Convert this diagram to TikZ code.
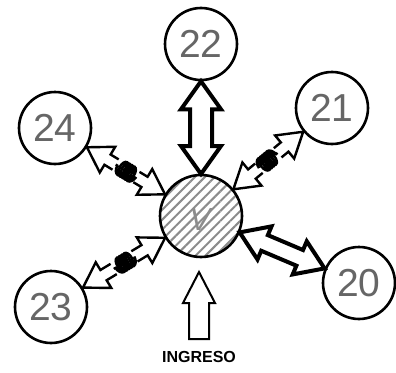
\documentclass[tikz,border=0pt]{standalone}
\usepackage{fontspec}
\setmainfont{Liberation Sans}
\usetikzlibrary{calc,patterns.meta,decorations.pathmorphing}

% angle and length of the free line between two nodes
\newcommand{\arrowframe}[2]{%
  \path (#1) -- (#2) coordinate[pos=0] (aa) coordinate[pos=1] (bb);
  \path let \p1=($(bb)-(aa)$) in \pgfextra{%
    \pgfmathsetmacro\arrang{atan2(\y1,\x1)}\xdef\arrang{\arrang}%
    \pgfmathsetmacro\arrlen{veclen(\x1,\y1)}\xdef\arrlen{\arrlen}};
}
% #1 from, #2 to, #3 shaft half width, #4 head half width, #5 head length, #6 style
\newcommand{\twowayarrow}[6]{%
  \arrowframe{#1}{#2}
  \begin{scope}[shift={(aa)}, rotate=\arrang]
    \draw[#6] (0,0) -- (#5,#4) -- (#5,#3) -- (\arrlen-#5,#3) -- (\arrlen-#5,#4)
      -- (\arrlen,0) -- (\arrlen-#5,-#4) -- (\arrlen-#5,-#3) -- (#5,-#3) -- (#5,-#4) -- cycle;
  \end{scope}
}
\newcommand{\onewayarrow}[6]{%
  \arrowframe{#1}{#2}
  \begin{scope}[shift={(aa)}, rotate=\arrang]
    \draw[#6] (0,#3) -- (\arrlen-#5,#3) -- (\arrlen-#5,#4) -- (\arrlen,0)
      -- (\arrlen-#5,-#4) -- (\arrlen-#5,-#3) -- (0,-#3) -- cycle;
  \end{scope}
}
\newcommand{\springarrow}[2]{%
  \twowayarrow{#1}{#2}{6}{15}{24}{spring arrow}
  \begin{scope}[shift={(aa)}, rotate=\arrang]
    \fill[white] (\arrlen/2-12,-8) rectangle (\arrlen/2+12,8);
    \draw[coil spring] (\arrlen/2-12,0) -- (\arrlen/2+12,0);
  \end{scope}
}

\begin{document}
\begin{tikzpicture}[x=1pt, y=-1pt,
  place/.style={circle, draw, line width=2.6pt, minimum size=72pt, inner sep=0pt,
    text=black!60, font=\fontsize{39}{39}\selectfont},
  heavy arrow/.style={line width=4pt},
  spring arrow/.style={line width=2.4pt},
  entry arrow/.style={line width=2pt},
  coil spring/.style={decorate, decoration={coil, aspect=0.6, segment length=2.8pt,
    amplitude=8pt}, line width=2.4pt}]
  \useasboundingbox[fill=white] (0,0) rectangle (396,372);

  \node[circle, draw, line width=2.6pt, minimum size=82pt, inner sep=0pt,
    pattern={Lines[angle=45,distance=7pt,line width=2pt]}, pattern color=black!45]
    (hub) at (201,216) {};
  \node[text=black!45, font=\fontsize{32}{32}\selectfont\itshape] (hubmark) at (200,219) {V};

  \node[place] (c22) at (201,44) {22};
  \node[place] (c21) at (332,108) {21};
  \node[place] (c20) at (359,283) {20};
  \node[place] (c23) at (51,307) {23};
  \node[place] (c24) at (55,128) {24};

  \node[font=\bfseries\fontsize{16}{16}\selectfont, inner sep=0pt] (ingreso) at (199,357) {INGRESO};
  \coordinate (entrytail) at ($(ingreso.north)+(0,-12)$);
  \coordinate (entry) at (199,272);

  \twowayarrow{c22}{hub}{11}{20}{28}{heavy arrow}
  \twowayarrow{hub}{c20}{8.5}{18}{27}{heavy arrow}
  \springarrow{hub}{c21}
  \springarrow{hub}{c24}
  \springarrow{hub}{c23}
  \onewayarrow{entrytail}{entry}{10}{16}{31}{entry arrow}
\end{tikzpicture}
\end{document}
